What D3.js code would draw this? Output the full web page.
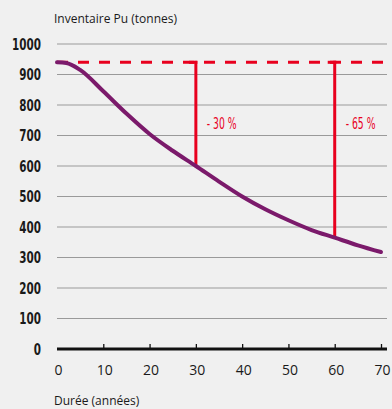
<!DOCTYPE html>
<html><head><meta charset="utf-8">
<script src="https://cdn.jsdelivr.net/npm/d3@7"></script>
<style>
html,body{margin:0;padding:0;background:#f0f0f0;}
svg{display:block;}
</style></head>
<body>
<svg id="c" width="392" height="409"></svg>
<script>
const years = [0, 2, 5, 10, 15, 20, 25, 30, 35, 40, 45, 50, 55, 60, 65, 70];
const inventory = [940, 938, 915, 845, 772, 705, 650, 600, 549, 500, 458, 422, 390, 365, 340, 318];
const initialLevel = 940;
const markers = [{year: 30, value: 600, label: "- 30 %"}, {year: 60, value: 365, label: "- 65 %"}];
const yTicks = [0, 100, 200, 300, 400, 500, 600, 700, 800, 900, 1000];
const xTicks = [0, 10, 20, 30, 40, 50, 60, 70];
const yTitle = "Inventaire Pu (tonnes)";
const xTitle = "Durée (années)";

const svg = d3.select("#c");
const x = d3.scaleLinear().domain([0, 70]).range([57, 381]);
const y = d3.scaleLinear().domain([0, 1000]).range([349, 44]);
const xEnd = 387;

svg.append("rect").attr("width", 392).attr("height", 409).attr("fill", "#f0f0f0");

// grid
svg.append("g").selectAll("line").data(yTicks.filter(d => d > 0)).join("line")
  .attr("x1", x(0)).attr("x2", xEnd).attr("y1", d => y(d)).attr("y2", d => y(d))
  .attr("stroke", "#9a9a9a").attr("stroke-width", 1.2);

// y labels (condensed)
svg.append("g").selectAll("text").data(yTicks).join("text")
  .attr("transform", d => `translate(41,${y(d)}) scale(0.63,1)`)
  .attr("dy", "0.36em")
  .attr("text-anchor", "end")
  .attr("font-family", "'DejaVu Sans',sans-serif")
  .attr("font-weight", "bold").attr("font-size", 16.5).attr("fill", "#1a1a1a")
  .text(d => d);

// x axis
const xAxis = d3.axisBottom(x).tickValues(xTicks.filter(d => d > 0)).tickSize(-5).tickFormat("");
const ga = svg.append("g").attr("transform", `translate(0,${y(0)})`).call(xAxis);
ga.select(".domain").remove();
ga.selectAll(".tick line").attr("stroke", "#111").attr("stroke-width", 1.3);
svg.append("line").attr("x1", x(0)).attr("x2", xEnd).attr("y1", y(0)).attr("y2", y(0))
  .attr("stroke", "#111").attr("stroke-width", 2.8);

svg.append("g").selectAll("text").data(xTicks).join("text")
  .attr("x", d => x(d) + 1.5).attr("y", 375)
  .attr("text-anchor", "middle")
  .attr("font-family", "'Open Sans',sans-serif").attr("font-size", 14).attr("fill", "#1a1a1a")
  .text(d => d);

// titles
svg.append("text").attr("x", 54).attr("y", 23).attr("font-family", "'Open Sans',sans-serif")
  .attr("font-size", 12).attr("fill", "#1a1a1a").text(yTitle);
svg.append("text").attr("x", 54).attr("y", 405).attr("font-family", "'Open Sans',sans-serif")
  .attr("font-size", 12).attr("fill", "#1a1a1a").text(xTitle);

const red = "#e8001e";
// dashed level
svg.append("line").attr("x1", x(0)).attr("x2", xEnd).attr("y1", y(initialLevel)).attr("y2", y(initialLevel))
  .attr("stroke", red).attr("stroke-width", 3).attr("stroke-dasharray", "11,10");

// vertical markers
svg.append("g").selectAll("line").data(markers).join("line")
  .attr("x1", d => x(d.year)).attr("x2", d => x(d.year))
  .attr("y1", y(initialLevel) - 1.5).attr("y2", d => y(d.value))
  .attr("stroke", red).attr("stroke-width", 3);
svg.append("g").selectAll("line").data(markers).join("line")
  .attr("x1", d => x(d.year) - 7).attr("x2", d => x(d.year) + 1.5)
  .attr("y1", y(initialLevel)).attr("y2", y(initialLevel))
  .attr("stroke", red).attr("stroke-width", 3);

svg.append("g").selectAll("text").data(markers).join("text")
  .attr("transform", d => `translate(${x(d.year) + 11},${y(740)}) scale(0.56,1)`)
  .attr("dy", "0.36em")
  .attr("font-family", "'DejaVu Sans',sans-serif")
  .attr("font-size", 16.5).attr("fill", red)
  .text(d => d.label);

// curve
const line = d3.line().x((d, i) => x(years[i])).y(d => y(d)).curve(d3.curveMonotoneX);
svg.append("path").datum(inventory).attr("d", line)
  .attr("fill", "none").attr("stroke", "#7b1a6b").attr("stroke-width", 4).attr("stroke-linecap", "round");
</script>
</body></html>
